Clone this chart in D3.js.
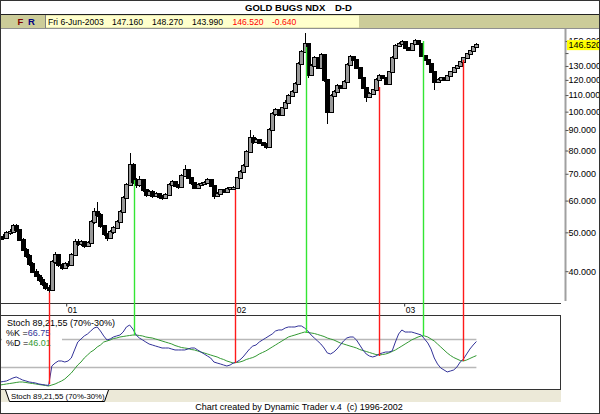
<!DOCTYPE html>
<html><head><meta charset="utf-8">
<script src="https://cdn.jsdelivr.net/npm/d3@7"></script>
<style>
html,body{margin:0;padding:0;background:#fff;}
svg{display:block;font-family:"Liberation Sans",Arial,sans-serif;}
</style></head><body>
<svg id="c" width="600" height="414"></svg>
<script>
// ---------- data ----------
const title = "GOLD BUGS NDX";
const period = "D-D";
const infoDate = "Fri 6-Jun-2003";
const infoOHLC = ["147.160", "148.270", "143.990"];
const infoLast = ["146.520", "-0.640"];
const priceTicks = [40, 50, 60, 70, 80, 90, 100, 110, 120, 130, 140, 150];
const lastPrice = 146.52;
const yearTicks = ["2001-01-01", "2002-01-01", "2003-01-01"];
const stochName = "Stoch 89,21,55 (70%-30%)";
const stochLevels = [70, 30];
const kLast = "66.75", dLast = "46.01";
const footer = "Chart created by Dynamic Trader v.4  (c) 1996-2002";

// weekly bars (Fridays), 11-Aug-2000 .. 6-Jun-2003
const opens = [48.0,48.7,48.4,49.8,50.1,51.9,50.7,47.9,45.2,43.7,
41.7,39.8,38.9,38.0,37.2,36.3,35.9,42.2,43.9,41.5,
40.8,41.7,41.5,43.9,47.3,46.8,47.3,46.3,47.1,53.1,
56.2,55.3,51.9,49.5,48.4,50.1,51.3,53.1,56.2,60.9,
65.7,73.7,66.8,65.7,67.5,63.8,62.0,63.1,61.6,62.3,
61.3,60.9,62.0,65.7,66.8,65.3,64.9,69.1,71.5,68.3,
66.4,64.5,65.7,66.0,66.4,67.5,65.3,61.6,62.3,63.8,
63.1,64.1,64.5,64.5,68.3,70.8,73.2,79.3,86.0,84.0,
85.0,83.6,82.6,81.7,90.0,98.7,101.0,98.1,102.1,105.1,
109.5,112.0,117.3,131.5,140.9,147.6,123.5,130.0,136.1,128.5,
138.5,119.9,99.8,109.5,112.0,115.9,114.6,118.6,130.8,136.9,
134.5,128.5,121.4,114.6,108.8,110.7,113.2,119.9,122.8,121.4,
117.3,125.6,136.1,145.9,147.6,149.2,144.2,142.5,147.6,150.1,
147.6,137.7,134.5,131.5,125.6,118.6,119.9,121.4,119.9,122.8,
125.6,128.5,130.0,133.0,136.1,139.3,141.7,145.0];
const highs = [49.6,49.5,50.3,51.0,52.6,52.4,51.0,48.3,45.8,44.2,
42.1,40.5,39.4,38.6,37.6,36.9,42.6,44.6,44.2,42.0,
42.2,42.3,44.4,48.0,48.1,47.9,47.6,47.6,53.8,57.4,
59.5,55.8,52.3,49.9,50.7,51.8,53.6,56.9,61.6,66.4,
79.0,74.5,68.5,69.0,68.0,64.3,63.8,63.6,63.0,62.7,
61.8,62.6,66.2,67.5,67.3,66.0,69.8,73.6,72.0,68.9,
66.9,66.3,66.7,67.0,68.2,67.9,65.7,62.9,64.3,64.2,
64.7,65.0,65.1,68.9,71.4,73.9,80.1,90.0,87.5,86.0,
85.6,84.1,83.4,90.8,99.6,102.0,101.6,103.0,106.8,110.4,
113.0,118.3,132.7,142.2,157.0,148.6,131.2,137.3,137.0,139.8,
139.3,120.6,110.5,113.1,117.0,116.7,119.7,132.0,138.2,137.8,
135.3,129.2,122.1,115.3,111.7,114.2,121.0,123.8,123.5,122.0,
126.6,137.3,147.1,148.8,150.6,150.0,145.3,148.7,152.0,151.0,
148.4,138.5,135.3,132.3,126.3,121.0,122.3,122.2,123.6,126.5,
129.4,131.0,134.0,137.0,140.2,142.6,145.9,148.3];
const lows = [47.5,47.9,48.0,49.2,49.8,50.2,47.5,44.8,43.2,41.3,
39.5,38.6,37.7,36.8,35.9,35.3,35.7,41.8,41.0,40.2,
40.4,40.9,41.2,43.6,46.2,46.3,45.7,45.9,46.8,52.6,
54.7,51.4,49.0,47.6,48.0,49.6,50.9,52.7,55.8,60.4,
65.1,66.0,64.6,65.0,63.0,61.2,61.5,61.0,61.1,60.6,
60.3,60.5,61.6,65.1,64.7,64.3,64.5,68.7,67.8,65.8,
64.0,64.1,65.2,65.5,65.9,64.8,60.5,61.1,61.9,62.5,
62.7,63.7,63.8,64.1,67.9,70.3,72.8,78.8,83.2,83.4,
82.9,81.9,80.6,81.3,89.5,97.6,97.3,97.6,101.5,104.5,
108.8,111.3,116.6,130.8,140.1,121.5,122.8,129.2,127.7,127.9,
118.9,93.0,99.2,108.8,111.3,113.8,114.0,117.9,130.1,133.6,
127.7,120.5,113.8,105.5,108.1,110.0,112.5,119.2,120.5,116.5,
116.7,125.0,135.4,145.0,146.8,143.3,141.6,141.8,146.8,146.6,
136.9,133.8,130.8,124.9,113.5,117.9,119.2,119.1,119.2,122.1,
124.9,127.8,129.3,132.3,135.4,138.6,141.0,144.0];
const closes = [48.7,48.4,49.8,50.1,51.9,50.7,47.9,45.2,43.7,41.7,
39.8,38.9,38.0,37.2,36.3,35.9,42.2,43.9,41.5,40.8,
41.7,41.5,43.9,47.3,46.8,47.3,46.3,47.1,53.1,56.2,
55.3,51.9,49.5,48.4,50.1,51.3,53.1,56.2,60.9,65.7,
73.7,66.8,65.7,67.5,63.8,62.0,63.1,61.6,62.3,61.3,
60.9,62.0,65.7,66.8,65.3,64.9,69.1,71.5,68.3,66.4,
64.5,65.7,66.0,66.4,67.5,65.3,61.6,62.3,63.8,63.1,
64.1,64.5,64.5,68.3,70.8,73.2,79.3,86.0,84.0,85.0,
83.6,82.6,81.7,90.0,98.7,101.0,98.1,102.1,105.1,109.5,
112.0,117.3,131.5,140.9,147.6,123.5,130.0,136.1,128.5,138.5,
119.9,99.8,109.5,112.0,115.9,114.6,118.6,130.8,136.9,134.5,
128.5,121.4,114.6,108.8,110.7,113.2,119.9,122.8,121.4,117.3,
125.6,136.1,145.9,147.6,149.2,144.2,142.5,147.6,150.1,147.6,
137.7,134.5,131.5,125.6,118.6,119.9,121.4,119.9,122.8,125.6,
128.5,130.0,133.0,136.1,139.3,141.7,145.0,146.52];

const stochK = [7.2,7.9,8.7,10.9,13.1,14.6,12.4,10.1,8.7,7.2,
6.5,5.7,4.3,3.5,2.8,2.1,30.7,35.1,38.1,38.1,
36.6,38.1,42.5,54.3,66.0,70.4,74.9,77.8,82.2,86.6,
88.1,82.2,74.9,69.0,70.4,73.4,74.9,76.3,80.7,88.1,
91.0,85.1,76.3,71.9,69.0,66.0,63.1,61.6,60.1,58.7,
57.2,57.2,57.2,55.7,54.3,54.3,54.3,54.3,55.7,57.2,
57.2,54.3,51.3,48.4,45.4,42.5,36.6,35.1,33.7,32.2,
30.7,32.2,35.1,36.6,39.6,44.0,49.9,55.7,60.1,61.6,
66.0,69.0,71.9,74.9,77.8,82.2,83.7,83.7,86.6,88.1,
88.1,88.1,89.6,89.6,86.6,82.2,76.3,71.9,67.5,63.1,
57.2,49.9,48.4,51.3,55.7,61.6,67.5,71.9,73.4,73.4,
69.0,61.6,54.3,48.4,45.4,44.0,45.4,48.4,49.9,51.3,
51.3,52.8,66.0,77.8,83.7,80.7,80.7,80.7,79.3,77.8,
76.3,70.4,64.6,55.7,42.5,33.7,27.8,24.9,22.0,23.4,
24.9,29.3,36.6,41.0,48.4,55.7,61.6,66.75];
const stochD = [2.8,3.5,4.3,5.0,5.7,6.5,7.2,7.2,6.5,5.7,
5.0,4.3,3.5,2.8,2.1,1.3,2.8,4.3,6.5,8.7,
11.6,16.0,20.4,26.3,32.2,36.6,42.5,46.9,51.3,54.3,
58.7,61.6,66.0,67.5,69.0,71.2,71.9,73.4,74.1,74.9,
75.6,76.3,76.3,75.6,74.9,73.4,72.6,71.9,70.4,69.0,
67.5,66.0,64.6,63.1,60.9,59.4,57.9,57.2,56.5,55.0,
54.3,52.8,51.3,49.9,48.4,46.9,45.4,44.0,41.8,40.3,
38.1,36.6,35.1,35.9,36.6,38.1,40.3,41.8,43.2,45.4,
48.4,50.6,52.8,55.7,58.7,61.6,64.6,67.5,70.4,73.4,
74.9,76.3,77.8,79.3,80.7,80.0,79.3,78.5,77.1,75.6,
74.1,71.9,70.4,69.0,66.8,64.6,63.1,61.6,60.1,58.7,
57.2,55.0,53.5,52.1,50.6,49.1,47.6,46.9,47.6,48.4,
49.9,52.1,54.3,57.2,60.1,63.1,66.0,69.0,71.2,73.4,
74.9,74.9,73.4,70.4,67.5,63.1,58.7,54.3,49.9,46.2,
43.2,41.0,38.8,38.1,39.6,41.8,44.0,46.01];

// signal lines: date, price end, stochastic end, kind
const signalDates  = ["2000-11-24", "2001-05-28", "2001-12-31", "2002-06-03", "2002-11-07", "2003-02-10", "2003-05-08"];
const signalPrices = [35.4, 67.5, 63.8, 144.9, 115.2, 150.0, 134.5];
const signalStoch  = [4.3, 76.3, 35.1, 79.3, 45.4, 74.9, 38.1];
const signalKinds  = ["low", "high", "low", "high", "low", "high", "low"];

// ---------- drawing ----------
const parse = d3.timeParse("%Y-%m-%d");
const dates = d3.timeFriday.range(new Date(2000, 7, 11), new Date(2003, 5, 7));
const bars = dates.map((d, i) => ({date: d, o: opens[i], h: highs[i], l: lows[i], c: closes[i], k: stochK[i], dd: stochD[i]}))
  .filter(b => b.o != null && b.c != null);

const svg = d3.select("#c");
svg.append("rect").attr("width", 600).attr("height", 414).attr("fill", "#fff");

const x = d3.scaleTime().domain([new Date(2000, 7, 11), new Date(2003, 5, 6)]).range([0, 476.4]);
const y = d3.scaleLog().domain([33.13, 159.83]).range([304, 30]);
const ys = d3.scaleLinear().domain([0, 100]).range([386.9, 318.9]);

// title bar
svg.append("text").attr("x", 245).attr("y", 10.5).attr("font-size", 9.5).attr("font-weight", "bold").text(title);
svg.append("text").attr("x", 335).attr("y", 10.5).attr("font-size", 9.5).attr("font-weight", "bold").text(period);
svg.append("line").attr("x1", 0).attr("x2", 600).attr("y1", 14.5).attr("y2", 14.5).attr("stroke", "#222");

// info bar
svg.append("rect").attr("x", 0).attr("y", 15).attr("width", 600).attr("height", 13).attr("fill", "#cccc99");
svg.append("line").attr("x1", 0).attr("x2", 600).attr("y1", 28.5).attr("y2", 28.5).attr("stroke", "#909090");
svg.append("rect").attr("x", 45.5).attr("y", 15.5).attr("width", 313.5).attr("height", 12).attr("fill", "#ffffcc");
svg.append("line").attr("x1", 45.5).attr("x2", 45.5).attr("y1", 15).attr("y2", 28).attr("stroke", "#808080");
svg.append("text").attr("x", 17.5).attr("y", 25.3).attr("font-size", 9.5).attr("font-weight", "bold").attr("fill", "#800000").text("F");
svg.append("text").attr("x", 28).attr("y", 25.3).attr("font-size", 9.5).attr("font-weight", "bold").attr("fill", "#000080").text("R");
const infoItems = [infoDate, ...infoOHLC, ...infoLast];
const infoX = [48, 112, 152, 192, 232.5, 272];
infoItems.forEach((t, i) => {
  svg.append("text").attr("x", infoX[i]).attr("y", 25.3).attr("font-size", 8.6)
    .attr("fill", i >= 4 ? "#ff0000" : "#000").text(t);
});

// price panel
svg.append("clipPath").attr("id", "pclip").append("rect")
  .attr("x", 1).attr("y", 29).attr("width", 563).attr("height", 274);
const pg = svg.append("g").attr("clip-path", "url(#pclip)").attr("shape-rendering", "crispEdges");

pg.selectAll("line.wick").data(bars).join("line").attr("class", "wick")
  .attr("x1", d => Math.round(x(d.date)) + 0.5).attr("x2", d => Math.round(x(d.date)) + 0.5)
  .attr("y1", d => Math.round(y(d.h))).attr("y2", d => Math.round(y(d.l)))
  .attr("stroke", "#000").attr("stroke-width", 1);
pg.selectAll("rect.body").data(bars).join("rect").attr("class", "body")
  .attr("x", d => Math.round(x(d.date)) - 1.5)
  .attr("width", 4)
  .attr("y", d => Math.round(y(Math.max(d.o, d.c))) - 0.5)
  .attr("height", d => Math.max(2, Math.round(y(Math.min(d.o, d.c))) - Math.round(y(Math.max(d.o, d.c))) + 1))
  .attr("fill", d => d.c >= d.o ? "#999999" : "#000")
  .attr("stroke", "#000").attr("stroke-width", 1);

// left border, bottom line of price panel
svg.append("line").attr("x1", 0.5).attr("x2", 0.5).attr("y1", 29).attr("y2", 390).attr("stroke", "#333");
svg.append("line").attr("x1", 0).attr("x2", 561).attr("y1", 303.5).attr("y2", 303.5).attr("stroke", "#333");

// right price axis
svg.append("line").attr("x1", 565.5).attr("x2", 565.5).attr("y1", 29).attr("y2", 301).attr("stroke", "#a0a0a0").attr("stroke-width", 2);
const yAxis = d3.axisRight(y).tickValues(priceTicks).tickFormat(d3.format(".3f")).tickSize(3).tickPadding(0);
const ya = svg.append("g").attr("transform", "translate(565.5,0)").call(yAxis);
ya.select(".domain").remove();
ya.selectAll("line").attr("stroke", "#555");
ya.selectAll("text").attr("font-size", 9).attr("font-family", '"Liberation Sans",Arial,sans-serif').attr("fill", "#000").attr("x", 3);
// a label partly hidden behind the last-price tag is clipped to the part above it
const tagTop = y(lastPrice) - 5;
svg.append("clipPath").attr("id", "tagclip").append("rect").attr("x", 560).attr("y", 29).attr("width", 40).attr("height", tagTop - 29);
ya.selectAll(".tick").filter(d => Math.abs(y(d) - y(lastPrice)) < 9).each(function(d) {
  const t = d3.select(this).select("text");
  const wrap = svg.append("g").attr("clip-path", "url(#tagclip)");
  wrap.append("text").attr("x", 568.5).attr("y", y(d)).attr("dy", "0.32em").attr("font-size", 9).text(t.text());
  t.remove();
});
// last price tag
svg.append("rect").attr("x", 567).attr("y", tagTop).attr("width", 32).attr("height", 10).attr("fill", "#ffff00");
svg.append("text").attr("x", 568.5).attr("y", y(lastPrice)).attr("dy", "0.34em").attr("font-size", 9).text(infoLast[0]);

// time axis
const xAxis = d3.axisBottom(x).tickValues(yearTicks.map(parse)).tickFormat(d3.timeFormat("%y")).tickSize(3).tickPadding(0);
const xa = svg.append("g").attr("transform", "translate(0,303.5)").call(xAxis);
xa.select(".domain").remove();
xa.selectAll("line").attr("stroke", "#333");
xa.selectAll("text").attr("font-size", 8.5).attr("font-family", '"Liberation Sans",Arial,sans-serif')
  .attr("fill", "#000").attr("text-anchor", "start").attr("x", 1).attr("y", 3);

// stochastic panel
svg.append("rect").attr("x", 0.5).attr("y", 315.5).attr("width", 560).attr("height", 74).attr("fill", "#fff").attr("stroke", "#333");
svg.append("clipPath").attr("id", "sclip").append("rect").attr("x", 1).attr("y", 316).attr("width", 559).attr("height", 73);
const sg = svg.append("g").attr("clip-path", "url(#sclip)");
const xEnd = x(dates[dates.length - 1]);
sg.selectAll("line.lvl").data(stochLevels).join("line").attr("class", "lvl")
  .attr("x1", 1).attr("x2", xEnd).attr("y1", d => Math.round(ys(d)) + 0.5).attr("y2", d => Math.round(ys(d)) + 0.5)
  .attr("stroke", "#b8b8b8").attr("stroke-width", 1.5);
// label block
sg.append("rect").attr("x", 2).attr("y", 327).attr("width", 60).attr("height", 21).attr("fill", "#fff");
svg.append("text").attr("x", 7).attr("y", 326.3).attr("font-size", 9).text(stochName);
const tk = svg.append("text").attr("x", 6).attr("y", 336.3).attr("font-size", 9);
tk.append("tspan").text("%K =");
tk.append("tspan").attr("fill", "#333399").text(kLast);
const td = svg.append("text").attr("x", 6).attr("y", 346.3).attr("font-size", 9);
td.append("tspan").text("%D =");
td.append("tspan").attr("fill", "#339933").text(dLast);

const lineK = d3.line().x(d => x(d.date)).y(d => ys(d.k));
const lineD = d3.line().x(d => x(d.date)).y(d => ys(d.dd));
sg.append("path").datum(bars).attr("d", lineD).attr("fill", "none").attr("stroke", "#339933").attr("stroke-width", 1);
sg.append("path").datum(bars).attr("d", lineK).attr("fill", "none").attr("stroke", "#333399").attr("stroke-width", 1);

// signal lines
const signals = signalDates.map((d, i) => ({date: parse(d), p: signalPrices[i], s: signalStoch[i], kind: signalKinds[i]}));
svg.append("g").selectAll("line").data(signals).join("line")
  .attr("x1", d => Math.round(x(d.date)) + 0.5).attr("x2", d => Math.round(x(d.date)) + 0.5)
  .attr("y1", d => y(d.p)).attr("y2", d => ys(d.s))
  .attr("stroke", d => d.kind === "low" ? "#ff1a1a" : "#33e633")
  .attr("stroke-width", 1.4);

// tab bar
svg.append("rect").attr("x", 1).attr("y", 390).attr("width", 560).attr("height", 12).attr("fill", "#ece9d8");
svg.append("path").attr("d", "M5.5,390 L9.5,401.5 L104.5,401.5 L108.5,390").attr("fill", "#fff").attr("stroke", "#000");
svg.append("text").attr("x", 11).attr("y", 399).attr("font-size", 7.8).text(stochName);

// footer
svg.append("text").attr("x", 299).attr("y", 410).attr("font-size", 9).attr("text-anchor", "middle")
  .style("white-space", "pre").text(footer);

// outer frame
svg.append("rect").attr("x", 0.5).attr("y", 0.5).attr("width", 599).attr("height", 413).attr("fill", "none").attr("stroke", "#333");
</script>
</body></html>
